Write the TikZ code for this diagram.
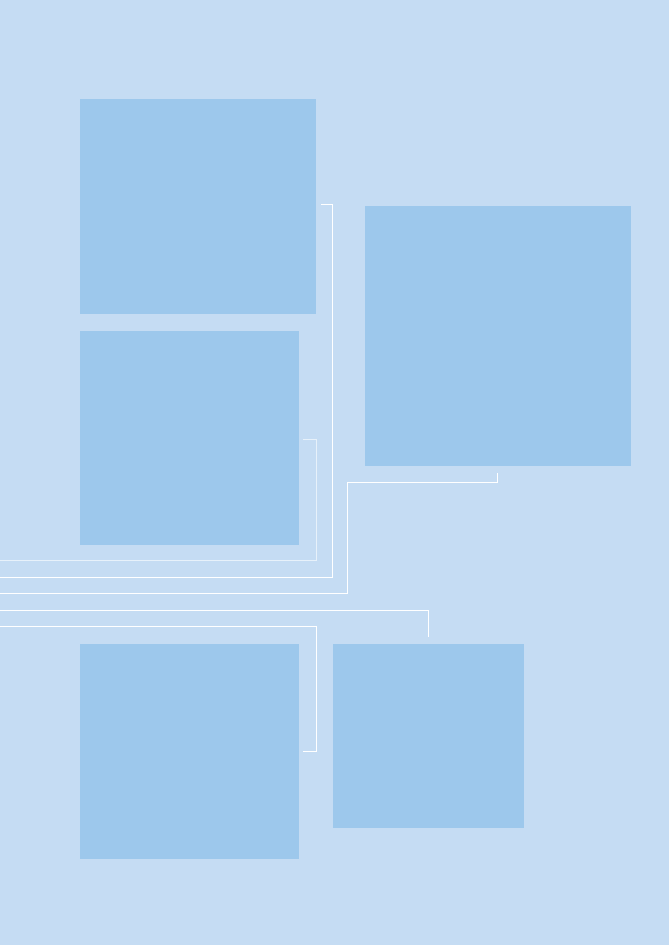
\documentclass[tikz,border=0pt]{standalone}
\usetikzlibrary{positioning}

\definecolor{paleblue}{RGB}{197,220,243}
\definecolor{boxblue}{RGB}{157,200,236}

\begin{document}
\begin{tikzpicture}[x = 1pt, y = -1pt, % page units, y downwards
                line width = 1pt % line style
            ]

            \tikzstyle{every node}=[fill = boxblue, inner sep = 0pt,
            anchor = north west]
            \tikzstyle{link}=[draw = white]
            \tikzstyle{faint}=[draw = white, draw opacity = 0.6]

            \fill[paleblue] (0,0) rectangle (669,945);
            \useasboundingbox (0,0) rectangle (669,945);

            \node (a) [minimum width = 236pt, minimum height = 215pt] at (79,98) {};
            \node (b) [minimum width = 219pt, minimum height = 214pt] at (79,330) {};
            \node (c) [minimum width = 266pt, minimum height = 260pt] at (364,205) {};
            \node (d) [minimum width = 219pt, minimum height = 215pt] at (79,643) {};
            \node (e) [minimum width = 191pt, minimum height = 184pt] at (332,643) {};

            \coordinate (ob) at (0,560); \coordinate (oa) at (0,577);
            \coordinate (oc) at (0,593); \coordinate (oe) at (0,610);
            \coordinate (od) at (0,626);

            \path[faint] ([xshift=4pt, yshift=-2pt]b.east) -- ++(13,0) |- (ob);
            \path[link] ([xshift=5pt, yshift=1.5pt]a.east) -- ++(11,0) |- (oa);
            \path[link] ([yshift=-7pt]c.south) -- ++(0,9) -- ++(-150,0) |- (oc);
            \path[link] ([yshift=6pt]e.north) |- (oe);
            \path[link] ([xshift=4pt]d.east) -- ++(13,0) |- (od);
\end{tikzpicture}
\end{document}
